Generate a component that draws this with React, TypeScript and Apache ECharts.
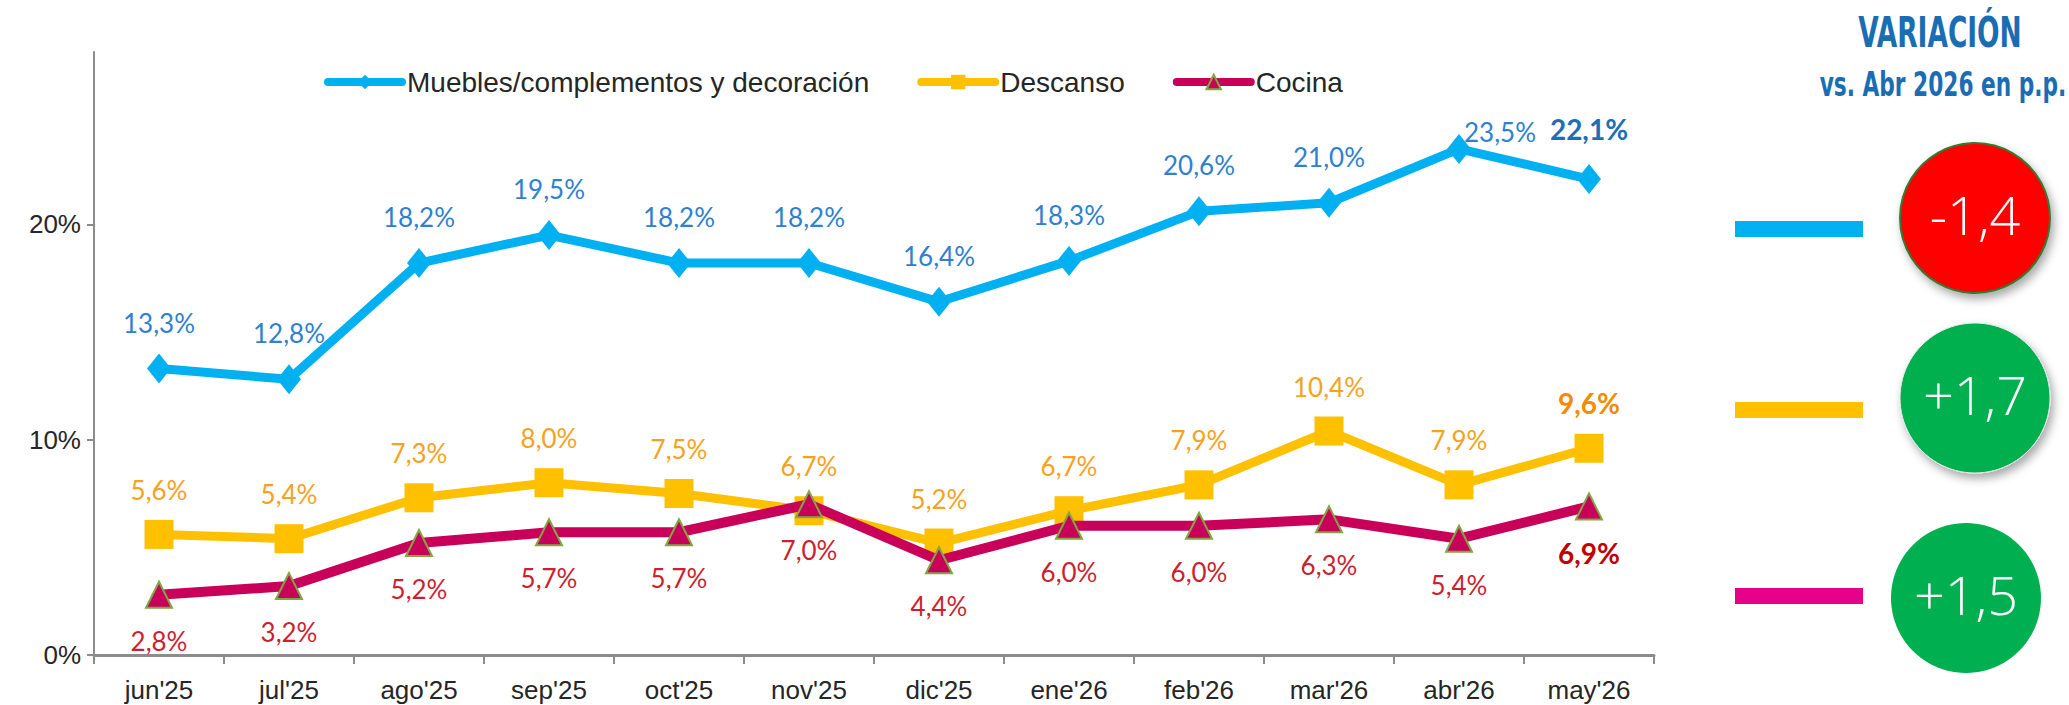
import React, { useEffect, useRef } from "react";
import * as echarts from "echarts";

const categories = ["jun'25", "jul'25", "ago'25", "sep'25", "oct'25", "nov'25", "dic'25", "ene'26", "feb'26", "mar'26", "abr'26", "may'26"];
const muebles = [13.3, 12.8, 18.2, 19.5, 18.2, 18.2, 16.4, 18.3, 20.6, 21.0, 23.5, 22.1];
const descanso = [5.6, 5.4, 7.3, 8.0, 7.5, 6.7, 5.2, 6.7, 7.9, 10.4, 7.9, 9.6];
const cocina = [2.8, 3.2, 5.2, 5.7, 5.7, 7.0, 4.4, 6.0, 6.0, 6.3, 5.4, 6.9];
const yTicks = [0, 10, 20];
const seriesNames = ["Muebles/complementos y decoración", "Descanso", "Cocina"];
const titleLines = ["VARIACIÓN", "vs. Abr 2026 en p.p."];
const variations = ["-1,4", "+1,7", "+1,5"];

const fmt = (v: number) => v.toFixed(1).replace(".", ",") + "%";
const AX_FONT = '"Liberation Sans", Arial, sans-serif';
const LBL_FONT = 'Lato, "Noto Sans", sans-serif';
const TITLE_FONT = '"DejaVu Sans Condensed", "DejaVu Sans", sans-serif';

export default function App() {
  const ref = useRef<HTMLDivElement>(null);
  useEffect(() => {
    document.body.style.margin = "0";
    const chart = echarts.init(ref.current!, null, { renderer: "svg" });
    const last = categories.length - 1;

    const mkData = (arr: number[], lastColor: string, extra?: Record<number, any>) =>
      arr.map((v, i) => {
        const item: any = { value: v };
        if (i === last) item.label = { fontWeight: "bold", color: lastColor, fontSize: 28 };
        if (extra && extra[i]) item.label = { ...(item.label || {}), ...extra[i] };
        return item;
      });

    const option: any = {
      animation: false,
      backgroundColor: "#ffffff",
      grid: { left: 94, right: 415, top: 52, bottom: 50, containLabel: false },
      legend: {
        left: 319,
        top: 63,
        itemWidth: 74,
        itemHeight: 18,
        itemGap: 48,
        lineStyle: { width: 8, cap: "round" },
        textStyle: { fontFamily: AX_FONT, fontSize: 28, color: "#262626" },
        data: seriesNames,
      },
      xAxis: {
        type: "category",
        data: categories,
        boundaryGap: true,
        axisLine: { lineStyle: { color: "#8c8c8c", width: 3 } },
        axisTick: { show: true, length: 9, lineStyle: { color: "#8c8c8c", width: 2 } },
        axisLabel: { fontFamily: AX_FONT, fontSize: 26, color: "#262626", margin: 22 },
        splitLine: { show: false },
      },
      yAxis: {
        type: "value",
        min: 0,
        max: 28,
        interval: 10,
        axisLine: { show: true, lineStyle: { color: "#8c8c8c", width: 2 } },
        axisTick: { show: true, length: 7, customValues: yTicks, lineStyle: { color: "#8c8c8c", width: 2 } },
        axisLabel: {
          fontFamily: AX_FONT,
          fontSize: 26,
          color: "#262626",
          margin: 13,
          customValues: yTicks,
          formatter: (v: number) => v + "%",
        },
        splitLine: { show: false },
      },
      series: [
        {
          name: seriesNames[0],
          type: "line",
          data: mkData(muebles, "#1F6EB4", {
            10: { offset: [41, 29] },
            11: { offset: [0, -3] },
          }),
          symbol: "diamond",
          symbolSize: [24, 30],
          lineStyle: { color: "#00B0F0", width: 9 },
          itemStyle: { color: "#00B0F0" },
          label: {
            show: true,
            position: "top",
            distance: 18,
            fontFamily: LBL_FONT,
            fontSize: 26,
            color: "#2E80D0",
            formatter: (p: any) => fmt(p.value),
          },
          z: 2,
        },
        {
          name: seriesNames[1],
          type: "line",
          data: mkData(descanso, "#F28C00"),
          symbol: "rect",
          symbolSize: 29,
          lineStyle: { color: "#FFC000", width: 9 },
          itemStyle: { color: "#FFC000" },
          label: {
            show: true,
            position: "top",
            distance: 17,
            fontFamily: LBL_FONT,
            fontSize: 26,
            color: "#F7A21E",
            formatter: (p: any) => fmt(p.value),
          },
          z: 3,
        },
        {
          name: seriesNames[2],
          type: "line",
          data: mkData(cocina, "#C00000"),
          symbol: "triangle",
          symbolSize: 26,
          lineStyle: { color: "#C8005A", width: 10 },
          itemStyle: { color: "#C8005A", borderColor: "#7FA843", borderWidth: 2 },
          label: {
            show: true,
            position: "bottom",
            distance: 19,
            fontFamily: LBL_FONT,
            fontSize: 26,
            color: "#CC1F2F",
            formatter: (p: any) => fmt(p.value),
          },
          z: 4,
        },
      ],
      graphic: [
        {
          type: "text",
          x: 1940,
          y: 33,
          scaleX: 0.7,
          style: {
            text: titleLines[0],
            fontFamily: TITLE_FONT,
            fontWeight: "bold",
            fontSize: 42,
            fill: "#1A6DB3",
            align: "center",
            verticalAlign: "middle",
          },
        },
        {
          type: "text",
          x: 1943,
          y: 84,
          scaleX: 0.71,
          style: {
            text: titleLines[1],
            fontFamily: TITLE_FONT,
            fontWeight: "bold",
            fontSize: 34,
            fill: "#1A6DB3",
            align: "center",
            verticalAlign: "middle",
          },
        },
        { type: "rect", shape: { x: 1735, y: 221, width: 128, height: 16 }, style: { fill: "#00B0F0" } },
        { type: "rect", shape: { x: 1735, y: 402, width: 128, height: 16 }, style: { fill: "#FFC000" } },
        { type: "rect", shape: { x: 1735, y: 588, width: 128, height: 16 }, style: { fill: "#E6008A" } },
        {
          type: "circle",
          shape: { cx: 1975, cy: 218, r: 75 },
          style: {
            fill: "#FF0000",
            stroke: "#2E7D32",
            lineWidth: 2,
            shadowBlur: 10,
            shadowOffsetX: 3,
            shadowOffsetY: 5,
            shadowColor: "rgba(0,0,0,0.35)",
          },
        },
        {
          type: "circle",
          shape: { cx: 1975, cy: 398, r: 75 },
          style: {
            fill: "#00B050",
            stroke: "#e8e8e8",
            lineWidth: 1,
            shadowBlur: 10,
            shadowOffsetX: 3,
            shadowOffsetY: 5,
            shadowColor: "rgba(0,0,0,0.35)",
          },
        },
        {
          type: "circle",
          shape: { cx: 1966, cy: 598, r: 75 },
          style: { fill: "#00B050" },
        },
        ...variations.map((t, i) => ({
          type: "text",
          x: [1975, 1975, 1966][i],
          y: [214, 394, 594][i],
          style: {
            text: t,
            fontFamily: '"Open Sans", sans-serif',
            fontWeight: 300,
            fontSize: 54,
            fill: "#ffffff",
            align: "center",
            verticalAlign: "middle",
          },
        })),
      ],
    };
    chart.setOption(option);
    return () => chart.dispose();
  }, []);
  return <div ref={ref} style={{ width: 2069, height: 705 }} />;
}
